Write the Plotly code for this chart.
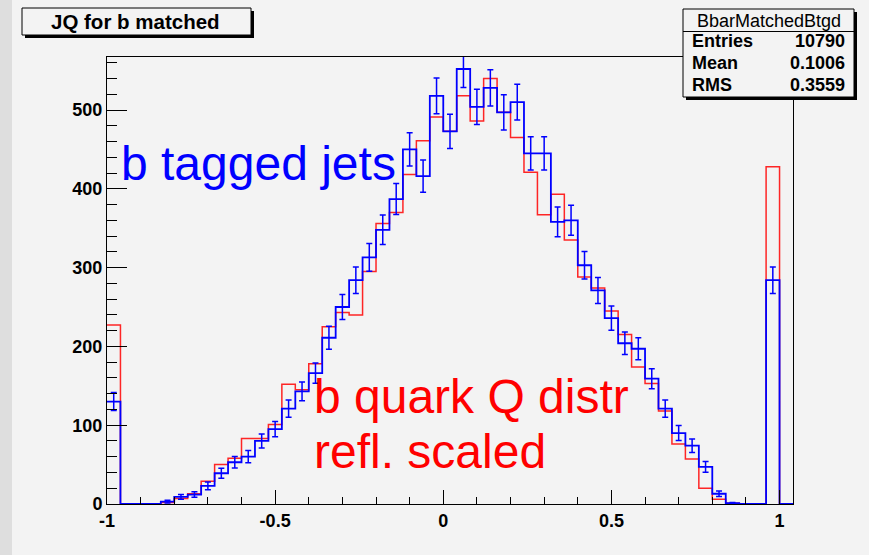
import numpy as np
import plotly.graph_objects as go

# ---- data ----
x_min = -1.0
bin_width = 0.04
# b tagged jets (blue, with errors)
blue_counts = [130, 0, 0, 0, 3, 9, 12, 23, 39, 53, 60, 80, 95, 121, 143, 166, 211, 250, 284, 313,
               348, 387, 450, 416, 518, 473, 552, 504, 528, 497, 510, 445, 445, 358, 360, 303, 271,
               236, 204, 197, 159, 121, 90, 74, 47, 13, 1, 0, 0, 284, 0]
# b quark Q distribution, reflected and scaled (red)
red_counts = [227, 0, 0, 0, 2, 7, 13, 29, 50, 58, 83, 83, 101, 152, 145, 178, 225, 243, 240, 295,
              356, 370, 418, 461, 491, 473, 518, 486, 540, 497, 465, 421, 367, 393, 335, 288, 274,
              245, 215, 174, 153, 118, 76, 57, 20, 6, 1, 0, 0, 428, 0]
x_tick_vals = [-1, -0.5, 0, 0.5, 1]
x_tick_text = ["-1", "-0.5", "0", "0.5", "1"]
title_text = "JQ for b matched"
stats_name = "BbarMatchedBtgd"
stats_labels = ["Entries", "Mean", "RMS"]
stats_values = ["10790", "0.1006", "0.3559"]

n_bins = len(blue_counts)
edges = x_min + bin_width * np.arange(n_bins + 1)
centers = x_min + bin_width * (np.arange(n_bins) + 0.5)
blue = np.array(blue_counts, dtype=float)
red = np.array(red_counts, dtype=float)

# ---- layout geometry (pixels) ----
W, H = 869, 555
L, R, T, B = 107, 793, 57, 504
def px(xp):
    return (xp - L) / (R - L)
def py(yp):
    return (B - yp) / (B - T)

BG = "#f3f3f3"
FONT = "Liberation Sans"

fig = go.Figure()
fig.add_trace(go.Scatter(x=edges, y=np.append(red, red[-1]), mode="lines",
                         line=dict(shape="hv", color="rgba(255,0,0,0.85)", width=1.5),
                         showlegend=False, hoverinfo="skip"))
fig.add_trace(go.Scatter(x=edges, y=np.append(blue, blue[-1]), mode="lines",
                         line=dict(shape="hv", color="#0000ff", width=1.8),
                         showlegend=False, hoverinfo="skip"))
fig.add_trace(go.Scatter(x=centers, y=blue, mode="markers",
                         marker=dict(size=0.1, color="#0000ff"),
                         error_y=dict(type="data", array=np.sqrt(blue), color="#0000ff",
                                      thickness=1.5, width=3),
                         showlegend=False, hoverinfo="skip"))

shapes = []
# left darker strip
shapes.append(dict(type="rect", xref="paper", yref="paper", x0=px(0), x1=px(12), y0=py(H), y1=py(0),
                   fillcolor="#dedede", line=dict(width=0), layer="below"))
# title box with shadow
shapes.append(dict(type="rect", xref="paper", yref="paper", x0=px(25), x1=px(254), y0=py(38), y1=py(11),
                   fillcolor="black", line=dict(width=0), layer="above"))
shapes.append(dict(type="rect", xref="paper", yref="paper", x0=px(22), x1=px(251), y0=py(35), y1=py(8),
                   fillcolor=BG, line=dict(color="black", width=1), layer="above"))
# stats box with shadow
shapes.append(dict(type="rect", xref="paper", yref="paper", x0=px(686), x1=px(857), y0=py(100), y1=py(12),
                   fillcolor="black", line=dict(width=0), layer="above"))
shapes.append(dict(type="rect", xref="paper", yref="paper", x0=px(683), x1=px(854), y0=py(97), y1=py(9),
                   fillcolor=BG, line=dict(color="black", width=1), layer="above"))
shapes.append(dict(type="line", xref="paper", yref="paper", x0=px(683), x1=px(854), y0=py(31.5), y1=py(31.5),
                   line=dict(color="black", width=1), layer="above"))

ann = []
ann.append(dict(text=title_text, x=px(135), y=py(22), xref="paper", yref="paper", showarrow=False,
                xanchor="center", yanchor="middle",
                font=dict(family=FONT, size=20.5, color="black", weight="bold")))
ann.append(dict(text=stats_name, x=px(768.5), y=py(21), xref="paper", yref="paper", showarrow=False,
                xanchor="center", yanchor="middle", font=dict(family=FONT, size=18, color="black")))
for i, (lab, val) in enumerate(zip(stats_labels, stats_values)):
    yy = 41 + 22 * i
    ann.append(dict(text=lab, x=px(690), y=py(yy), xref="paper", yref="paper", showarrow=False,
                    xanchor="left", yanchor="middle",
                    font=dict(family=FONT, size=18, color="black", weight="bold")))
    ann.append(dict(text=val, x=px(847), y=py(yy), xref="paper", yref="paper", showarrow=False,
                    xanchor="right", yanchor="middle",
                    font=dict(family=FONT, size=18, color="black", weight="bold")))
ann.append(dict(text="b tagged jets", x=px(119), y=py(163), xref="paper", yref="paper", showarrow=False,
                xanchor="left", yanchor="middle", font=dict(family=FONT, size=48, color="#0000ff")))
ann.append(dict(text="b quark Q distr", x=px(312), y=py(396), xref="paper", yref="paper", showarrow=False,
                xanchor="left", yanchor="middle", font=dict(family=FONT, size=48, color="#ff0000")))
ann.append(dict(text="refl. scaled", x=px(312), y=py(451), xref="paper", yref="paper", showarrow=False,
                xanchor="left", yanchor="middle", font=dict(family=FONT, size=48, color="#ff0000")))

y_top = (B - T) / ((B - 110) / 500.0)

fig.update_layout(
    width=W, height=H,
    margin=dict(l=L, r=W - R, t=T, b=H - B, pad=0),
    paper_bgcolor=BG, plot_bgcolor=BG,
    shapes=shapes, annotations=ann,
    showlegend=False,
    xaxis=dict(range=[x_min, edges[-1]], tickmode="array", tickvals=x_tick_vals, ticktext=x_tick_text,
               ticks="inside", ticklen=14, tickcolor="black", tickwidth=1,
               minor=dict(tickmode="linear", tick0=0, dtick=0.1, ticks="inside", ticklen=7,
                          tickcolor="black", tickwidth=1),
               showline=True, linecolor="black", linewidth=1, mirror=True,
               showgrid=False, zeroline=False,
               tickfont=dict(family=FONT, size=18, color="black", weight="bold")),
    yaxis=dict(range=[0, y_top], tickmode="linear", tick0=0, dtick=100,
               ticks="inside", ticklen=20, tickcolor="black", tickwidth=1,
               minor=dict(tickmode="linear", tick0=0, dtick=20, ticks="inside", ticklen=10,
                          tickcolor="black", tickwidth=1),
               showline=True, linecolor="black", linewidth=1, mirror=True,
               showgrid=False, zeroline=False,
               tickfont=dict(family=FONT, size=18, color="black", weight="bold")),
)

fig.write_html("out.html")
